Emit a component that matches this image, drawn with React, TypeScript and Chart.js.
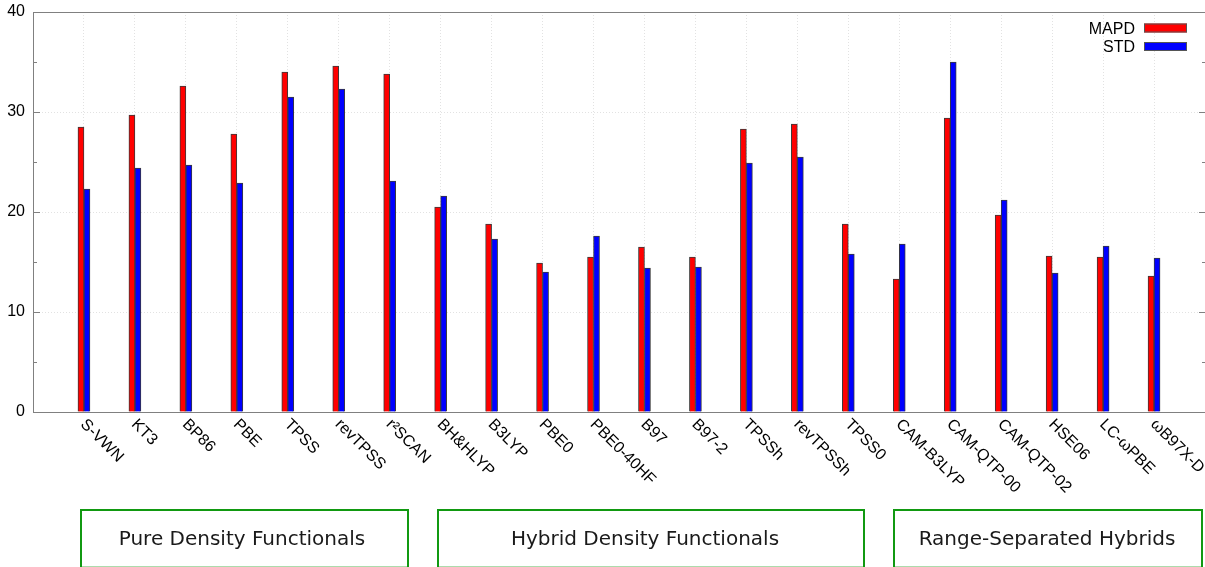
import React, { useEffect, useRef } from 'react';
import { Chart, registerables } from 'chart.js';

Chart.register(...registerables);

const functionals = [
  'S-VWN', 'KT3', 'BP86', 'PBE', 'TPSS', 'revTPSS', 'r²SCAN', 'BH&HLYP', 'B3LYP', 'PBE0', 'PBE0-40HF',
  'B97', 'B97-2', 'TPSSh', 'revTPSSh', 'TPSS0', 'CAM-B3LYP', 'CAM-QTP-00', 'CAM-QTP-02', 'HSE06', 'LC-ωPBE', 'ωB97X-D',
];
const mapd = [28.5, 29.7, 32.6, 27.8, 34.0, 34.6, 33.8, 20.5, 18.8, 14.9, 15.5, 16.5, 15.5, 28.3, 28.8, 18.8, 13.3, 29.4, 19.7, 15.6, 15.5, 13.6];
const std = [22.3, 24.4, 24.7, 22.9, 31.5, 32.3, 23.1, 21.6, 17.3, 14.0, 17.6, 14.4, 14.5, 24.9, 25.5, 15.8, 16.8, 35.0, 21.2, 13.9, 16.6, 15.4];
const seriesNames = ['MAPD', 'STD'];
const yMin = 0;
const yMax = 40;
const yStep = 10;
const yMinorStep = 5;
const groupNames = ['Pure Density Functionals', 'Hybrid Density Functionals', 'Range-Separated Hybrids'];

const FONT = '"Liberation Sans", Arial, Helvetica, sans-serif';
const AXIS = '#808080';
const RED = '#ff0000';
const BLUE = '#0000ff';
const GREEN = '#119911';

// layout (pixels) for the group boxes below the chart
const groupBoxes = [
  { x: 80, w: 329, tx: 242 },
  { x: 437, w: 428, tx: 645 },
  { x: 893, w: 310, tx: 1047 },
];

const overlay = {
  id: 'overlay',
  afterDraw(chart: any) {
    const ctx = chart.ctx as CanvasRenderingContext2D;
    const { left, right, top, bottom } = chart.chartArea;
    const xs = chart.scales.x;
    const ys = chart.scales.y;
    ctx.save();

    // axis borders
    ctx.strokeStyle = AXIS;
    ctx.lineWidth = 1;
    ctx.setLineDash([]);
    ctx.beginPath();
    ctx.moveTo(left, top + 0.5);
    ctx.lineTo(right, top + 0.5);
    ctx.moveTo(left + 0.5, top);
    ctx.lineTo(left + 0.5, bottom + 0.5);
    ctx.moveTo(left, bottom + 0.5);
    ctx.lineTo(right, bottom + 0.5);
    ctx.stroke();

    // inward ticks (left and mirrored right)
    ctx.beginPath();
    for (let v = yMin + yMinorStep; v < yMax; v += yMinorStep) {
      const py = Math.round(ys.getPixelForValue(v)) + 0.5;
      const len = v % yStep === 0 ? 7 : 4;
      ctx.moveTo(left, py);
      ctx.lineTo(left + len, py);
      ctx.moveTo(right + 1 - len, py);
      ctx.lineTo(right, py);
    }
    ctx.stroke();

    // rotated category labels
    ctx.fillStyle = '#000';
    ctx.font = `16px ${FONT}`;
    ctx.textAlign = 'left';
    ctx.textBaseline = 'middle';
    functionals.forEach((name, i) => {
      const px = xs.getPixelForTick(i + 1);
      ctx.save();
      ctx.translate(px - 1, bottom + 10);
      ctx.rotate(Math.PI / 4);
      ctx.fillText(name, 0, 0);
      ctx.restore();
    });

    // legend
    const legendColors = [RED, BLUE];
    seriesNames.forEach((name, i) => {
      const cy = 28.5 + i * 18.5;
      ctx.fillStyle = '#000';
      ctx.font = `16px ${FONT}`;
      ctx.textAlign = 'right';
      ctx.textBaseline = 'middle';
      ctx.fillText(name, 1135, cy + 1);
      ctx.fillStyle = legendColors[i];
      ctx.fillRect(1144, cy - 5, 43, 9);
      ctx.strokeStyle = '#555';
      ctx.lineWidth = 1;
      ctx.strokeRect(1144.5, cy - 4.5, 42, 8);
    });

    // group boxes
    ctx.lineWidth = 2;
    ctx.font = `20px "DejaVu Sans", sans-serif`;
    ctx.textAlign = 'center';
    ctx.textBaseline = 'alphabetic';
    groupNames.forEach((name, i) => {
      const b = groupBoxes[i];
      ctx.strokeStyle = GREEN;
      ctx.beginPath();
      ctx.moveTo(b.x + 1, 568);
      ctx.lineTo(b.x + 1, 510);
      ctx.lineTo(b.x + b.w - 1, 510);
      ctx.lineTo(b.x + b.w - 1, 568);
      ctx.stroke();
      ctx.strokeStyle = 'rgba(17,153,17,0.35)';
      ctx.lineWidth = 1;
      ctx.beginPath();
      ctx.moveTo(b.x + 2, 566.5);
      ctx.lineTo(b.x + b.w - 2, 566.5);
      ctx.stroke();
      ctx.lineWidth = 2;
      ctx.fillStyle = '#1a1a1a';
      ctx.fillText(name, b.tx, 545);
    });

    ctx.restore();
  },
};

export default function App() {
  const ref = useRef<HTMLCanvasElement>(null);

  useEffect(() => {
    document.body.style.margin = '0';
    const labels = ['', ...functionals, ''];
    const pad = (arr: number[]) => [null, ...arr, null];
    const chart = new Chart(ref.current as HTMLCanvasElement, {
      type: 'bar',
      data: {
        labels,
        datasets: [
          {
            label: seriesNames[0],
            data: pad(mapd) as any,
            backgroundColor: RED,
            borderColor: '#3a3a3a',
            borderWidth: 1,
            barThickness: 6,
            grouped: true,
          },
          {
            label: seriesNames[1],
            data: pad(std) as any,
            backgroundColor: BLUE,
            borderColor: '#3a3a3a',
            borderWidth: 1,
            barThickness: 6,
            grouped: true,
          },
        ],
      },
      options: {
        animation: false,
        responsive: false,
        maintainAspectRatio: false,
        layout: { padding: { top: 12, right: 0, left: 0, bottom: 0 } },
        plugins: { legend: { display: false }, tooltip: { enabled: false } },
        scales: {
          x: {
            type: 'category',
            offset: false,
            grid: { display: true, offset: false, color: '#e2e2e2', lineWidth: 1, drawTicks: false },
            border: { display: false, dash: [1, 2] },
            ticks: { display: false },
            afterFit: (s: any) => {
              s.height = 155;
              s.paddingLeft = 0;
              s.paddingRight = 0;
            },
          },
          y: {
            min: yMin,
            max: yMax,
            ticks: { stepSize: yStep, font: { family: FONT, size: 16 }, color: '#000', padding: 8 },
            grid: { color: '#e2e2e2', lineWidth: 1, drawTicks: false },
            border: { display: false, dash: [1, 2] },
            afterFit: (s: any) => {
              s.width = 33;
              s.paddingTop = 0;
              s.paddingBottom = 0;
            },
          },
        },
      },
      plugins: [overlay],
    });
    return () => chart.destroy();
  }, []);

  return (
    <div style={{ width: 1205, height: 567, position: 'relative', overflow: 'hidden', background: '#fff' }}>
      <canvas ref={ref} width={1205} height={567} style={{ display: 'block' }} />
    </div>
  );
}
